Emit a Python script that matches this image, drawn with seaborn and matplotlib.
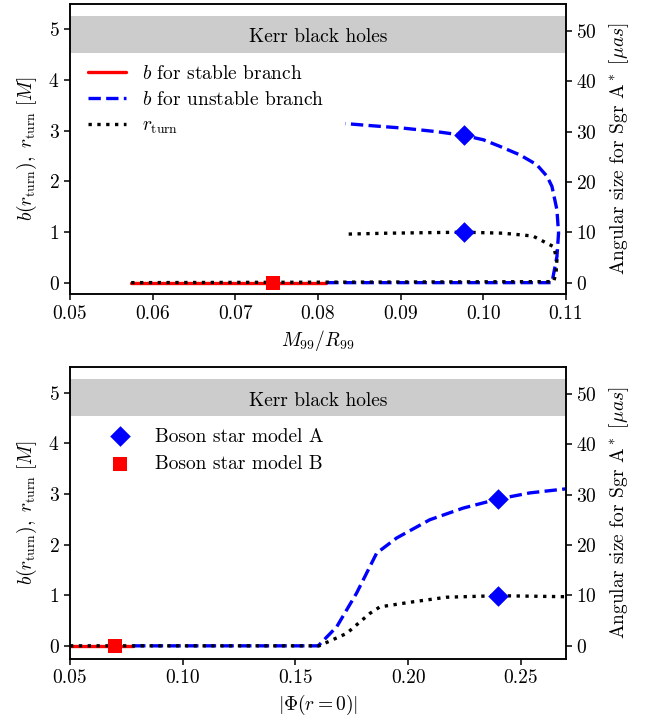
import numpy as np
import pandas as pd
import matplotlib
matplotlib.use("Agg")
import matplotlib.pyplot as plt
import matplotlib.transforms as mtransforms
import seaborn as sns

# ---------------- data ----------------
# Top panel: x = M99/R99
top_stable_x = [0.0574, 0.0810]
top_stable_b = [0.0, 0.0]
top_unstable_x = [0.0810, 0.1083, 0.1089, 0.1091, 0.1089, 0.1083, 0.1077, 0.10645,
                  0.10444, 0.1020, 0.1000, 0.0977, 0.09436, 0.0903, 0.0863, 0.0833]
top_unstable_b = [0.0, 0.0, 0.51, 0.98, 1.44, 1.90, 2.10, 2.33,
                  2.52, 2.69, 2.82, 2.905, 2.98, 3.05, 3.10, 3.14]
top_rturn_x = [0.0574, 0.1085, 0.1088, 0.1089, 0.1085, 0.1060, 0.1024, 0.0977, 0.0883, 0.0833]
top_rturn_y = [0.0, 0.02, 0.19, 0.45, 0.71, 0.92, 0.976, 0.996, 0.976, 0.957]
top_modelA_x = [0.0977, 0.0977]
top_modelA_y = [2.905, 0.996]
top_modelB_x = [0.0746]
top_modelB_y = [0.0]

# Bottom panel: x = |Phi(r=0)|
bot_stable_x = [0.050, 0.078]
bot_stable_b = [0.0, 0.0]
bot_unstable_x = [0.078, 0.1601, 0.1683, 0.1771, 0.1815, 0.1860, 0.1949, 0.2096,
                  0.2244, 0.2400, 0.2540, 0.2700]
bot_unstable_b = [0.0, 0.0, 0.376, 1.04, 1.43, 1.83, 2.13, 2.49, 2.72, 2.90, 3.02, 3.10]
bot_rturn_x = [0.050, 0.1605, 0.1727, 0.1830, 0.1875, 0.2023, 0.2170, 0.2400, 0.2700]
bot_rturn_y = [0.0, 0.0, 0.245, 0.64, 0.77, 0.87, 0.96, 0.99, 0.97]
bot_modelA_x = [0.240, 0.240]
bot_modelA_y = [2.90, 0.99]
bot_modelB_x = [0.070]
bot_modelB_y = [0.0]

left_ticks = [0, 1, 2, 3, 4, 5]
right_ticks = [0, 10, 20, 30, 40, 50]
top_xticks = [0.05, 0.06, 0.07, 0.08, 0.09, 0.10, 0.11]
bot_xticks = [0.05, 0.10, 0.15, 0.20, 0.25]
angular_factor = 10.06  # micro-arcsec per M (diameter)
kerr_band = (4.53, 5.26)

# ---------------- style ----------------
sns.set_style("ticks")
plt.rcParams.update({
    "font.family": "serif",
    "font.serif": ["cmr10"],
    "mathtext.fontset": "cm",
    "axes.formatter.use_mathtext": True,
    "axes.unicode_minus": False,
    "font.size": 14,
    "text.color": "black",
    "axes.labelcolor": "black",
    "axes.linewidth": 1.1,
    "xtick.major.width": 1.1,
    "ytick.major.width": 1.1,
    "xtick.major.size": 4,
    "ytick.major.size": 4,
    "xtick.color": "black",
    "ytick.color": "black",
    "axes.edgecolor": "black",
})

W, H = 654, 722
fig = plt.figure(figsize=(W / 100, H / 100), dpi=100)
ax1 = fig.add_axes([70 / W, 1 - 294.3 / H, 496 / W, 290.3 / H])
ax2 = fig.add_axes([70 / W, 1 - 659 / H, 496 / W, 291.7 / H])

LW = 2.4


def line(ax, x, y, color, ls, label=None):
    df = pd.DataFrame({"x": x, "y": y})
    sns.lineplot(data=df, x="x", y="y", ax=ax, color=color, linestyle=ls, lw=LW,
                 sort=False, estimator=None, label=label, legend=False)


def points(ax, x, y, color, marker, size, label=None):
    df = pd.DataFrame({"x": x, "y": y})
    sns.scatterplot(data=df, x="x", y="y", ax=ax, color=color, marker=marker, s=size,
                    linewidth=0, zorder=5, label=label, legend=False)


def decorate(ax, xlim, ylim, xticks, xlabel):
    ax.axhspan(*kerr_band, color="#cccccc", lw=0, zorder=0)
    trans = mtransforms.blended_transform_factory(ax.transAxes, ax.transData)
    ax.text(0.5, 4.84, "Kerr black holes", transform=trans,
            ha="center", va="center", fontsize=14, color="black")
    ax.set_xlim(*xlim)
    ax.set_ylim(*ylim)
    ax.set_xticks(xticks)
    ax.set_xticklabels([f"{t:.2f}" for t in xticks])
    ax.set_yticks(left_ticks)
    ax.set_xlabel(xlabel, fontsize=14, labelpad=4)
    ax.set_ylabel(r"$b(r_{\rm turn}),\ r_{\rm turn}\ [M]$", fontsize=14, labelpad=7)
    axr = ax.twinx()
    axr.set_ylim(ylim[0] * angular_factor, ylim[1] * angular_factor)
    axr.set_yticks(right_ticks)
    axr.set_ylabel(r"Angular size for Sgr A$^*$ [$\mu as$]", fontsize=14, labelpad=7)
    for a in (ax, axr):
        a.tick_params(labelsize=14, colors="black")
    return axr


# ---------------- top panel ----------------
line(ax1, top_stable_x, top_stable_b, "red", "-", r"$b$ for stable branch")
line(ax1, top_unstable_x, top_unstable_b, "blue", "--", r"$b$ for unstable branch")
line(ax1, top_rturn_x, top_rturn_y, "black", ":", r"$r_{\rm turn}$")
points(ax1, top_modelA_x, top_modelA_y, "blue", "D", 110)
points(ax1, top_modelB_x, top_modelB_y, "red", "s", 100)
decorate(ax1, (0.05, 0.11), (-0.23, 5.5), top_xticks, r"$M_{99}/R_{99}$")
h1 = ax1.get_lines()[:3]
ax1.legend(handles=h1, loc="upper left", bbox_to_anchor=(0.0, 0.85), frameon=False,
           fontsize=14, handlelength=2.0, labelspacing=0.4)

# ---------------- bottom panel ----------------
line(ax2, bot_stable_x, bot_stable_b, "red", "-")
line(ax2, bot_unstable_x, bot_unstable_b, "blue", "--")
line(ax2, bot_rturn_x, bot_rturn_y, "black", ":")
points(ax2, bot_modelA_x, bot_modelA_y, "blue", "D", 110, "Boson star model A")
points(ax2, bot_modelB_x, bot_modelB_y, "red", "s", 100, "Boson star model B")
decorate(ax2, (0.05, 0.27), (-0.26, 5.5), bot_xticks, r"$|\Phi(r=0)|$")
handles, labels = ax2.get_legend_handles_labels()
ax2.legend(handles=handles, labels=labels, loc="upper left", bbox_to_anchor=(0.026, 0.853),
           frameon=False, fontsize=14, labelspacing=0.5, scatterpoints=1)

fig.savefig("out.png", dpi=100)
